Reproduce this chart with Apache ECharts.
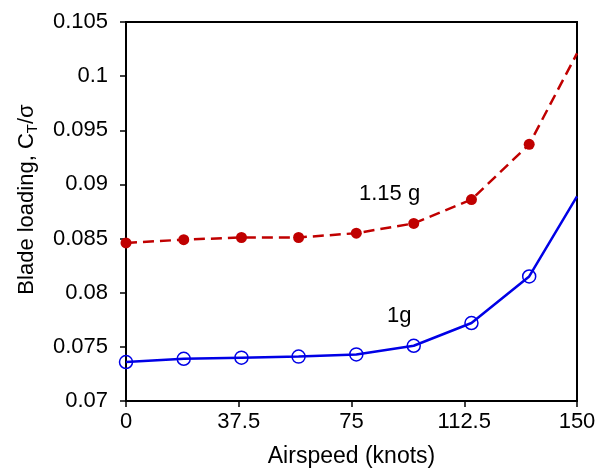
<!DOCTYPE html>
<html>
<head>
<meta charset="utf-8">
<script src="https://cdn.jsdelivr.net/npm/echarts@6/dist/echarts.min.js"></script>
<style>
  html, body { margin: 0; padding: 0; background: #fff; }
  #chart { width: 597px; height: 470px; }
</style>
</head>
<body>
<div id="chart"></div>
<script>
// Airspeed (knots) at which blade loading was evaluated
const airspeed = [0, 19.2, 38.4, 57.4, 76.6, 95.7, 114.9, 134.1, 150];
// Blade loading C_T/sigma for the 1.15 g manoeuvre
const loading115g = [0.0846, 0.0849, 0.0851, 0.0851, 0.0855, 0.0864, 0.0886, 0.0937, 0.1021];
// Blade loading C_T/sigma for level 1 g flight
const loading1g = [0.0736, 0.0739, 0.0740, 0.0741, 0.0743, 0.0751, 0.0772, 0.0815, 0.0889];
// Axis tick values
const xTicks = [0, 37.5, 75, 112.5, 150];
const yTicks = [0.07, 0.075, 0.08, 0.085, 0.09, 0.095, 0.1, 0.105];

const FONT = '"Liberation Sans", Arial, sans-serif';

// The last point of each curve is a line end only, no marker
function pairs(xs, ys) {
  return xs.map((x, i) => {
    const item = { value: [x, ys[i]] };
    if (i === xs.length - 1) item.symbol = 'none';
    return item;
  });
}

const chart = echarts.init(document.getElementById('chart'), null, { renderer: 'canvas' });

chart.setOption({
  animation: false,
  backgroundColor: '#fff',
  textStyle: { fontFamily: FONT, color: '#000' },
  grid: {
    left: 126, right: 20, top: 22, bottom: 69,
    outerBoundsMode: 'none', containLabel: false,
    show: true, borderColor: '#000', borderWidth: 2
  },
  xAxis: {
    type: 'value',
    min: 0, max: 150, interval: 37.5,
    name: 'Airspeed (knots)',
    nameLocation: 'middle',
    nameGap: 44,
    nameTextStyle: { fontSize: 23, color: '#000', fontFamily: FONT },
    axisLine: { show: true, lineStyle: { color: '#000', width: 2 } },
    axisTick: { show: true, inside: false, length: 6, lineStyle: { color: '#000', width: 1.5 } },
    axisLabel: {
      fontSize: 22, color: '#000', fontFamily: FONT, margin: 10,
      formatter: v => xTicks.includes(v) ? String(v) : ''
    },
    splitLine: { show: false }
  },
  yAxis: {
    type: 'value',
    min: 0.07, max: 0.105, interval: 0.005,
    name: 'Blade loading, C{s|T}/σ',
    nameLocation: 'middle',
    nameGap: 86,
    nameRotate: 90,
    nameTextStyle: {
      fontSize: 22, color: '#000', fontFamily: FONT, lineHeight: 26,
      padding: [0, 0, 0, 24],
      rich: {
        s: { fontSize: 15, fontFamily: FONT, color: '#000', verticalAlign: 'bottom', lineHeight: 10 }
      }
    },
    axisLine: { show: true, lineStyle: { color: '#000', width: 2 } },
    axisTick: { show: true, inside: false, length: 6, lineStyle: { color: '#000', width: 1.5 } },
    axisLabel: {
      fontSize: 22, color: '#000', fontFamily: FONT, margin: 18,
      formatter: v => {
        const t = yTicks.find(y => Math.abs(y - v) < 1e-9);
        return t === undefined ? '' : String(t);
      }
    },
    splitLine: { show: false }
  },
  series: [
    {
      name: '1.15 g',
      type: 'line',
      data: pairs(airspeed, loading115g),
      smooth: false,
      symbol: 'circle',
      symbolSize: 11,
      lineStyle: { color: '#C00000', width: 2.5, type: [11, 6] },
      itemStyle: { color: '#C00000' },
      z: 3
    },
    {
      name: '1g',
      type: 'line',
      data: pairs(airspeed, loading1g),
      smooth: false,
      symbol: 'circle',
      symbolSize: 13,
      lineStyle: { color: '#0000E6', width: 2.5 },
      itemStyle: { color: 'rgba(255,255,255,0)', borderColor: '#0000E6', borderWidth: 1.5 },
      z: 3
    }
  ],
  graphic: [
    { type: 'text', left: 359, top: 183, style: { text: '1.15 g', fontSize: 22, fontFamily: FONT, fill: '#000' } },
    { type: 'text', left: 387, top: 305, style: { text: '1g', fontSize: 22, fontFamily: FONT, fill: '#000' } }
  ]
});
</script>
</body>
</html>
